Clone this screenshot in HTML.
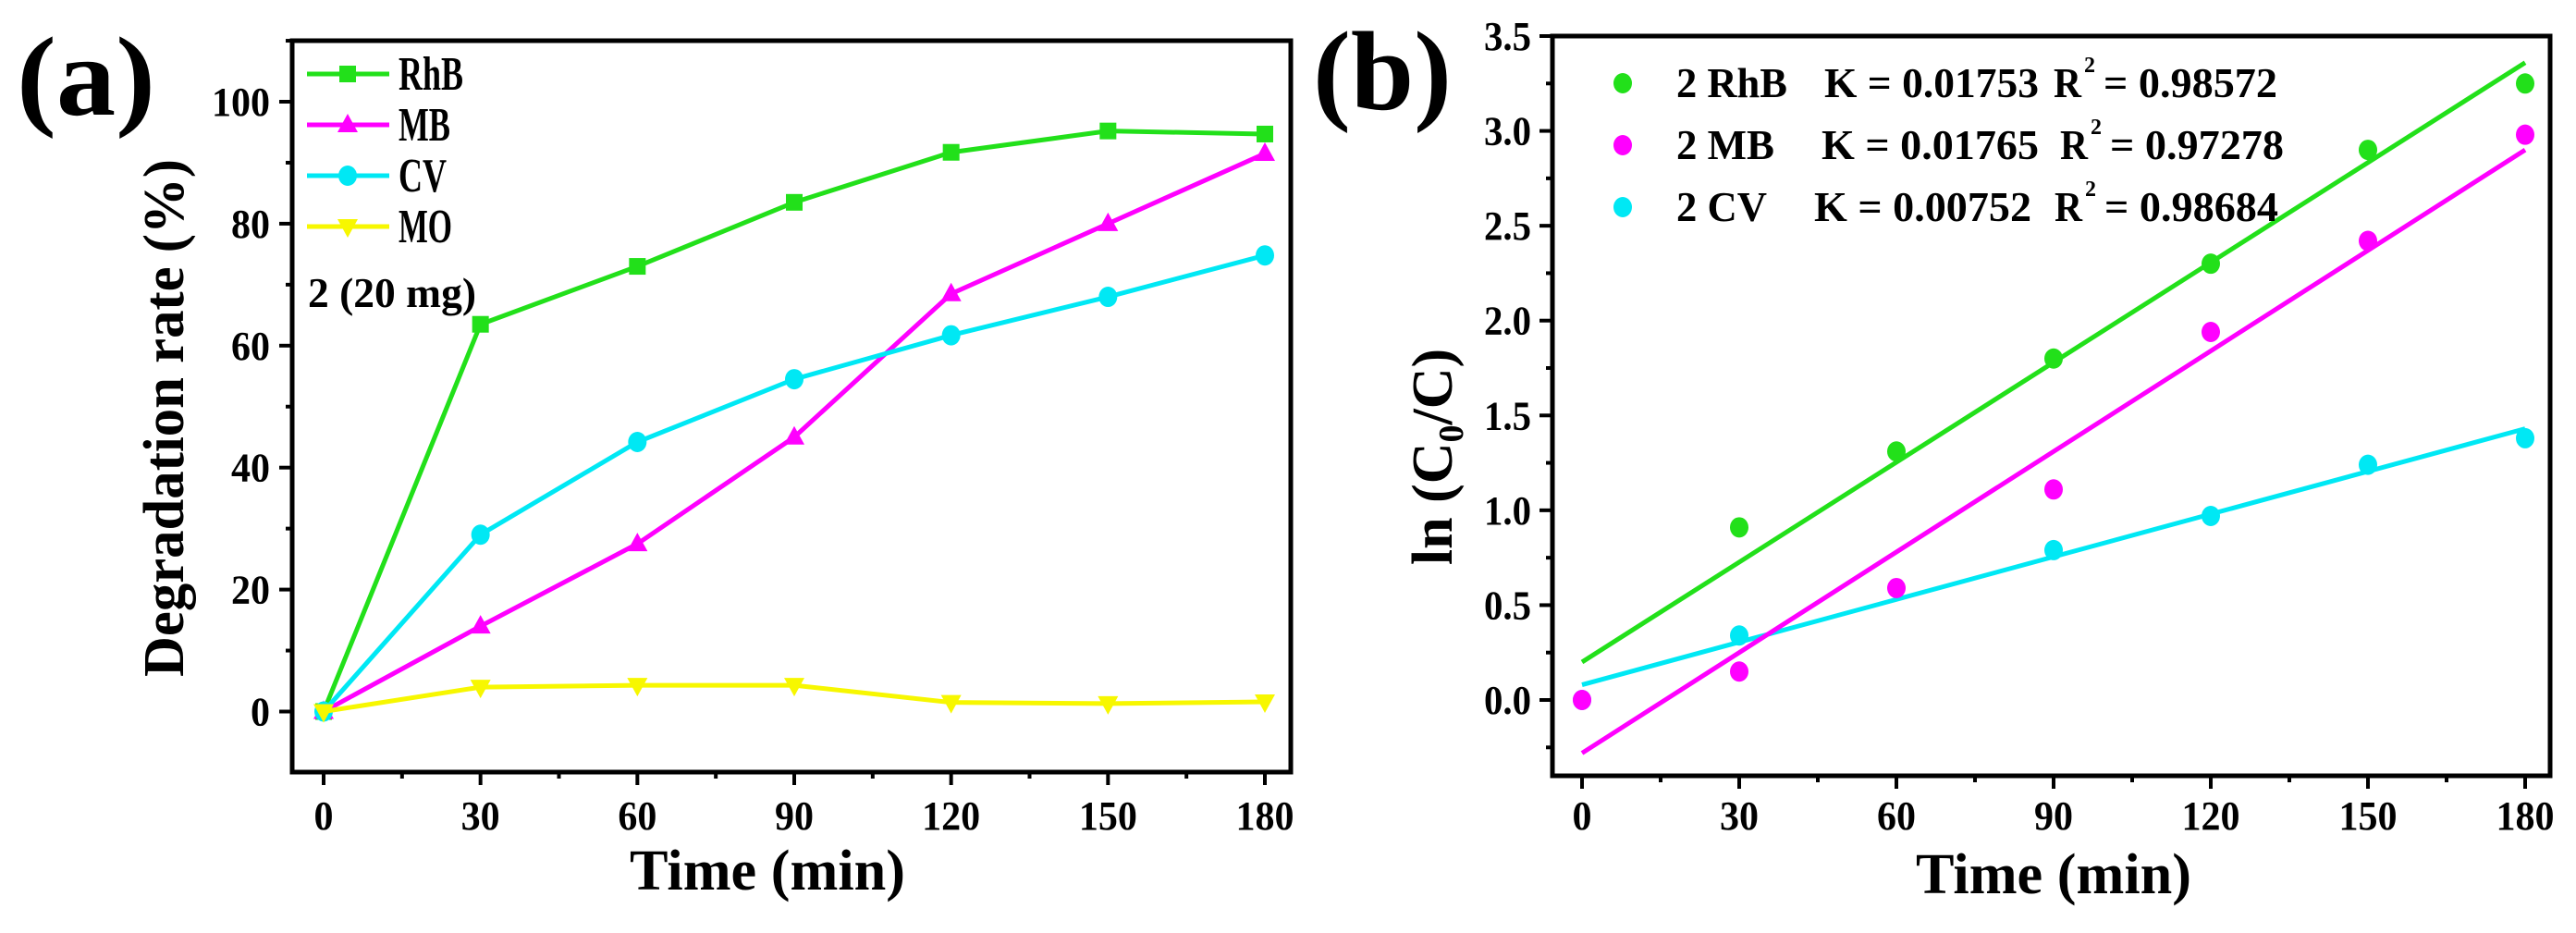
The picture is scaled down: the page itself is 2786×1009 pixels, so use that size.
<!DOCTYPE html>
<html><head><meta charset="utf-8"><style>
html,body{margin:0;padding:0;background:#fff}
svg{display:block}
text{font-family:"Liberation Serif",serif;font-weight:bold;fill:#000}
</style></head><body>
<svg id="chart" width="2786" height="1009" viewBox="0 0 2786 1009" xmlns="http://www.w3.org/2000/svg"></svg>
<script>
const timesA = [0,30,60,90,120,150,180];
const rhbA = [0,63.5,73,83.5,91.7,95.2,94.7];
const mbA = [0,14,27.5,45,68.5,80,91.5];
const cvA = [0,29,44.2,54.5,61.7,68,74.8];
const moA = [0,4,4.3,4.3,1.5,1.3,1.6];
const yTicksA = [0,20,40,60,80,100];
const xTicks = [0,30,60,90,120,150,180];

const rhbBt = [30,60,90,120,150,180];
const rhbBv = [0.91,1.31,1.80,2.30,2.90,3.25];
const mbBt = [0,30,60,90,120,150,180];
const mbBv = [0,0.15,0.59,1.11,1.94,2.42,2.98];
const cvBt = [0,30,90,120,150,180];
const cvBv = [0,0.34,0.79,0.97,1.24,1.38];
const rhbFit = [0.20,3.36];
const mbFit = [-0.28,2.90];
const cvFit = [0.08,1.43];
const yTicksB = [0,0.5,1.0,1.5,2.0,2.5,3.0,3.5];

const NS="http://www.w3.org/2000/svg";
const svg=document.getElementById('chart');
function el(tag,attrs,parent){const e=document.createElementNS(NS,tag);for(const k in attrs)e.setAttribute(k,attrs[k]);(parent||svg).appendChild(e);return e;}
function fit(t,len){t.setAttribute('textLength',len);t.setAttribute('lengthAdjust','spacingAndGlyphs');}

const ax=t=>350+t*(1018/180);
const ay=v=>769.5-v*6.595;
const bx=t=>1711+t*(1020/180);
const by=v=>757-v*(718/3.5);

function frame(x1,x2,y1,y2,name){
  const r=el('rect',{x:x1,y:y1,width:x2-x1,height:y2-y1,fill:'none',stroke:'#000','stroke-width':5});
  
  
}
function tickLen(s){let n=0;for(const ch of s)n+=(ch==='.'?9:21);return n;}
frame(316,1396,44,835,'axes-frame-a');
yTicksA.forEach(v=>{
  el('line',{x1:302,x2:316,y1:ay(v),y2:ay(v),stroke:'#000','stroke-width':4});
  el('line',{x1:309,x2:316,y1:ay(v+10),y2:ay(v+10),stroke:'#000','stroke-width':4});
  const t=el('text',{x:292,y:ay(v)+15,'text-anchor':'end','font-size':44});t.textContent=v;fit(t,tickLen(String(v)));
  
  
});
xTicks.forEach(v=>{
  el('line',{x1:ax(v),x2:ax(v),y1:835,y2:849,stroke:'#000','stroke-width':4});
  if(v<180) el('line',{x1:ax(v+15),x2:ax(v+15),y1:835,y2:842,stroke:'#000','stroke-width':4});
  const t=el('text',{x:ax(v),y:897,'text-anchor':'middle','font-size':44});t.textContent=v;fit(t,tickLen(String(v)));
  
  
});
function marker(type,x,y,c){
  if(type==='sq') return el('rect',{x:x-9,y:y-9,width:18,height:18,fill:c});
  if(type==='up') return el('polygon',{points:`${x},${y-12} ${x-11},${y+8} ${x+11},${y+8}`,fill:c});
  if(type==='dn') return el('polygon',{points:`${x},${y+12} ${x-11},${y-8} ${x+11},${y-8}`,fill:c});
  return el('ellipse',{cx:x,cy:y,rx:10,ry:11,fill:c});
}
function seriesA(vals,c,type,name){
  const pts=timesA.map((t,i)=>ax(t)+','+ay(vals[i])).join(' ');
  const p=el('polyline',{points:pts,fill:'none',stroke:c,'stroke-width':5});
  
  
  timesA.forEach((t,i)=>{const m=marker(type,ax(t),ay(vals[i]),c);
    
    });
}
seriesA(rhbA,'#22e01a','sq','rhb-a');
seriesA(mbA,'#ff00ff','up','mb-a');
seriesA(cvA,'#00e8f4','ci','cv-a');
seriesA(moA,'#f7f700','dn','mo-a');
[['RhB','#22e01a','sq',80,70],['MB','#ff00ff','up',135,56],['CV','#00e8f4','ci',190,52],['MO','#f7f700','dn',245,58]].forEach(([n,c,ty,y,w])=>{
  const g=el('g',{});
  
  
  el('line',{x1:332,x2:421,y1:y,y2:y,stroke:c,'stroke-width':5},g);
  marker(ty,376,y,c);
  const t=el('text',{x:431,y:y+17,'font-size':52},g);t.textContent=n;fit(t,w);
});
const note=el('text',{x:333,y:332,'font-size':46});note.textContent='2 (20 mg)';fit(note,182);


const la=el('text',{x:18,y:124,'font-size':122});la.textContent='(a)';fit(la,150);


const ya=el('text',{x:0,y:0,'font-size':62,'text-anchor':'middle',transform:'translate(198,452) rotate(-90)'});ya.textContent='Degradation rate (%)';fit(ya,560);


const xa=el('text',{x:830,y:962,'font-size':62,'text-anchor':'middle'});xa.textContent='Time (min)';fit(xa,298);



frame(1679,2758,39,839,'axes-frame-b');
yTicksB.forEach(v=>{
  el('line',{x1:1665,x2:1679,y1:by(v),y2:by(v),stroke:'#000','stroke-width':4});
  el('line',{x1:1672,x2:1679,y1:by(v-0.25),y2:by(v-0.25),stroke:'#000','stroke-width':4});
  const s=v.toFixed(1);
  const t=el('text',{x:1656,y:by(v)+15,'text-anchor':'end','font-size':44});t.textContent=s;fit(t,tickLen(s));
  
  
});
xTicks.forEach(v=>{
  el('line',{x1:bx(v),x2:bx(v),y1:839,y2:853,stroke:'#000','stroke-width':4});
  if(v<180) el('line',{x1:bx(v+15),x2:bx(v+15),y1:839,y2:846,stroke:'#000','stroke-width':4});
  const t=el('text',{x:bx(v),y:897,'text-anchor':'middle','font-size':44});t.textContent=v;fit(t,tickLen(String(v)));
  
  
});
function seriesB(ts,vs,f,c,name){
  const l=el('line',{x1:bx(0),y1:by(f[0]),x2:bx(180),y2:by(f[1]),stroke:c,'stroke-width':5});
  
  
  ts.forEach((t,i)=>{const m=el('ellipse',{cx:bx(t),cy:by(vs[i]),rx:10,ry:11,fill:c});
    
    });
}
seriesB(cvBt,cvBv,cvFit,'#00e8f4','cv-b');
seriesB(rhbBt,rhbBv,rhbFit,'#22e01a','rhb-b');
seriesB(mbBt,mbBv,mbFit,'#ff00ff','mb-b');
[['2 RhB',120,'K = 0.01753',1973,232,2221,'= 0.98572','#22e01a',90],
 ['2 MB',106,'K = 0.01765',1970,235,2228,'= 0.97278','#ff00ff',157],
 ['2 CV',98,'K = 0.00752',1962,235,2222,'= 0.98684','#00e8f4',224]].forEach(([n,nw,k,kx,kw,rx,rv,c,y])=>{
  const g=el('g',{});
  
  
  el('ellipse',{cx:1755,cy:y,rx:10,ry:11,fill:c},g);
  let t=el('text',{x:1813,y:y+15,'font-size':46},g);t.textContent=n;fit(t,nw);
  t=el('text',{x:kx,y:y+15,'font-size':46},g);t.textContent=k;fit(t,kw);
  t=el('text',{x:rx,y:y+15,'font-size':46},g);t.textContent='R';fit(t,30);
  t=el('text',{x:rx+33,y:y-12,'font-size':24},g);t.textContent='2';
  t=el('text',{x:rx+54,y:y+15,'font-size':46},g);t.textContent=rv;fit(t,188);
});
const lb=el('text',{x:1420,y:118,'font-size':122});lb.textContent='(b)';fit(lb,150);


const yb=el('text',{x:0,y:0,'font-size':62,'text-anchor':'middle',transform:'translate(1570,494) rotate(-90)'});


yb.innerHTML='ln (C<tspan font-size="38" dy="12">0</tspan><tspan dy="-12">/C)</tspan>';
const xb=el('text',{x:2221,y:966,'font-size':62,'text-anchor':'middle'});xb.textContent='Time (min)';fit(xb,298);


</script>
</body></html>
